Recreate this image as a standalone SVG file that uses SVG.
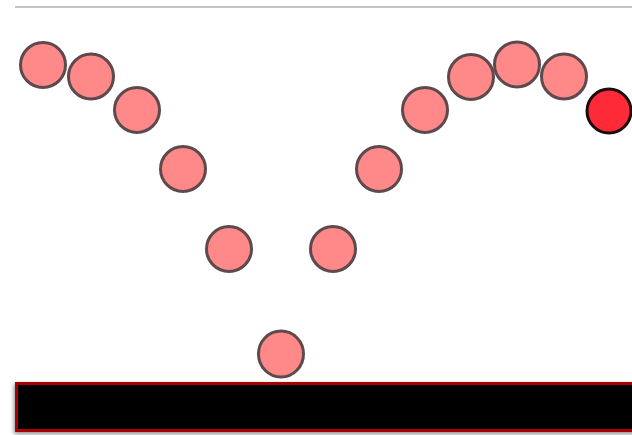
<svg xmlns="http://www.w3.org/2000/svg" width="632" height="435" viewBox="0 0 632 435">
  <defs>
    <filter id="barShadow" x="-5%" y="-30%" width="110%" height="160%">
      <feDropShadow dx="-1" dy="2" stdDeviation="2" flood-color="#000" flood-opacity="0.45"/>
    </filter>
    <style>
      .ball { fill: #ff8888; stroke: #5e4a4c; stroke-width: 3; }
      .ball-red { fill: #ff2a38; stroke: #1c0a0c; stroke-width: 3; }
      .rule { stroke: #b0b0b0; stroke-width: 1.5; }
      .floor { fill: #000000; stroke: #a80000; stroke-width: 3; }
    </style>
  </defs>
  <rect width="632" height="435" fill="#ffffff"/>
  <line class="rule" x1="15" y1="7" x2="632" y2="7"/>

  <g id="floor">
    <rect class="floor" x="16.5" y="383.5" width="630" height="47" filter="url(#barShadow)"/>
  </g>

  <g id="ball1"><circle class="ball" cx="43" cy="65" r="22.5"/></g>
  <g id="ball2"><circle class="ball" cx="91" cy="76.5" r="22.5"/></g>
  <g id="ball3"><circle class="ball" cx="137" cy="110" r="22.5"/></g>
  <g id="ball4"><circle class="ball" cx="183" cy="169" r="22.5"/></g>
  <g id="ball5"><circle class="ball" cx="229" cy="249" r="22.5"/></g>
  <g id="ball6"><ellipse class="ball" cx="281" cy="354" rx="22.5" ry="23"/></g>
  <g id="ball7"><circle class="ball" cx="333" cy="249" r="22.5"/></g>
  <g id="ball8"><circle class="ball" cx="379" cy="169" r="22.5"/></g>
  <g id="ball9"><circle class="ball" cx="425" cy="110" r="22.5"/></g>
  <g id="ball10"><circle class="ball" cx="471" cy="77" r="22.5"/></g>
  <g id="ball11"><circle class="ball" cx="517" cy="64.5" r="22.5"/></g>
  <g id="ball12"><circle class="ball" cx="564" cy="76.5" r="22.5"/></g>
  <g id="ball13"><circle class="ball-red" cx="609" cy="111" r="22"/></g>
</svg>
